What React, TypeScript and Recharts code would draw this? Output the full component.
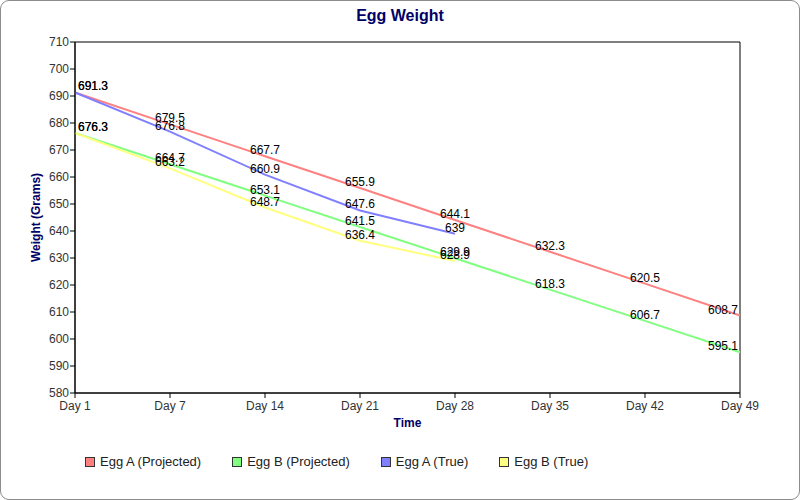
import React from 'react';
import { LineChart, Line, XAxis, YAxis, ReferenceArea, LabelList, Label } from 'recharts';

const days = ['Day 1', 'Day 7', 'Day 14', 'Day 21', 'Day 28', 'Day 35', 'Day 42', 'Day 49'];
const eggAProjected = [691.3, 679.5, 667.7, 655.9, 644.1, 632.3, 620.5, 608.7];
const eggBProjected = [676.3, 664.7, 653.1, 641.5, 629.9, 618.3, 606.7, 595.1];
const eggATrue = [691.3, 676.8, 660.9, 647.6, 639];
const eggBTrue = [676.3, 663.2, 648.7, 636.4, 628.9];
const yTicks = [580, 590, 600, 610, 620, 630, 640, 650, 660, 670, 680, 690, 700, 710];

const seriesInfo = [
  { key: 'aProj', name: 'Egg A (Projected)', color: '#ff8080' },
  { key: 'bProj', name: 'Egg B (Projected)', color: '#80ff80' },
  { key: 'aTrue', name: 'Egg A (True)', color: '#8080ff' },
  { key: 'bTrue', name: 'Egg B (True)', color: '#ffff80' },
];

const data = days.map((d, i) => ({
  day: d,
  aProj: eggAProjected[i],
  bProj: eggBProjected[i],
  aTrue: i < eggATrue.length ? eggATrue[i] : undefined,
  bTrue: i < eggBTrue.length ? eggBTrue[i] : undefined,
}));

const PLOT_LEFT = 75;
const PLOT_RIGHT = 740;
const FONT = '"Liberation Sans", Arial, sans-serif';

const ValueLabel = (props: any) => {
  const { x, y, value } = props;
  if (value === undefined || value === null) return null;
  const text = String(value);
  const w = text.length * 6.67 - (text.includes('.') ? 3.3 : 0);
  let cx = x;
  if (cx - w / 2 < PLOT_LEFT + 3) cx = PLOT_LEFT + 3 + w / 2;
  if (cx + w / 2 > PLOT_RIGHT - 2) cx = PLOT_RIGHT - 2 - w / 2;
  return (
    <text x={cx} y={y - 2} textAnchor="middle" fontSize={12} fontFamily={FONT} fill="#000">
      {text}
    </text>
  );
};

export default function App() {
  return (
    <div style={{ position: 'absolute', left: 0, top: 0, width: 800, height: 500, background: '#fff' }}>
      <div
        style={{
          position: 'absolute', left: 0, top: 0, width: 800, height: 500, boxSizing: 'border-box',
          border: '1px solid #8c8c8c', borderRadius: 9, pointerEvents: 'none',
        }}
      />
      <div
        style={{
          position: 'absolute', left: 0, top: 6, width: 800, textAlign: 'center', fontFamily: FONT,
          fontWeight: 'bold', fontSize: 16, color: '#000066', lineHeight: '20px',
        }}
      >
        Egg Weight
      </div>
      <LineChart
        width={800}
        height={500}
        data={data}
        margin={{ top: 42, right: 60, bottom: 67, left: 30 }}
        style={{ position: 'absolute', left: 0, top: 0 }}
      >
        <ReferenceArea x1="Day 1" x2="Day 49" y1={580} y2={710} fill="none" stroke="#000" strokeWidth={1} ifOverflow="visible" />
        <XAxis
          dataKey="day"
          height={40}
          tickSize={5}
          tickMargin={3}
          interval={0}
          stroke="#000"
          tick={{ fill: '#333', fontSize: 12, fontFamily: FONT }}
        >
          <Label value="Time" position="insideBottom" offset={6} fill="#000066" fontSize={12} fontWeight="bold" fontFamily={FONT} />
        </XAxis>
        <YAxis
          domain={[580, 710]}
          ticks={yTicks}
          interval={0}
          width={45}
          tickSize={5}
          tickMargin={1}
          stroke="#000"
          tick={{ fill: '#333', fontSize: 12, fontFamily: FONT }}
        >
          <Label value="Weight (Grams)" angle={-90} position="insideLeft" offset={6} style={{ textAnchor: 'middle' }} fill="#000066" fontSize={12} fontWeight="bold" fontFamily={FONT} />
        </YAxis>
        {seriesInfo.map((s) => (
          <Line
            key={s.key}
            type="linear"
            dataKey={s.key}
            name={s.name}
            stroke={s.color}
            strokeWidth={2}
            dot={false}
            activeDot={false}
            isAnimationActive={false}
          >
            <LabelList dataKey={s.key} content={ValueLabel} />
          </Line>
        ))}
      </LineChart>
      <div
        style={{
          position: 'absolute', left: 85, top: 455, display: 'flex', alignItems: 'center',
          fontFamily: FONT, fontSize: 13, color: '#222',
        }}
      >
        {seriesInfo.map((s) => (
          <div key={s.key} style={{ display: 'flex', alignItems: 'center', marginRight: 31 }}>
            <span
              style={{
                display: 'inline-block', width: 8, height: 8, background: s.color,
                border: '1px solid #333', marginRight: 5,
              }}
            />
            <span style={{ lineHeight: '14px' }}>{s.name}</span>
          </div>
        ))}
      </div>
    </div>
  );
}
